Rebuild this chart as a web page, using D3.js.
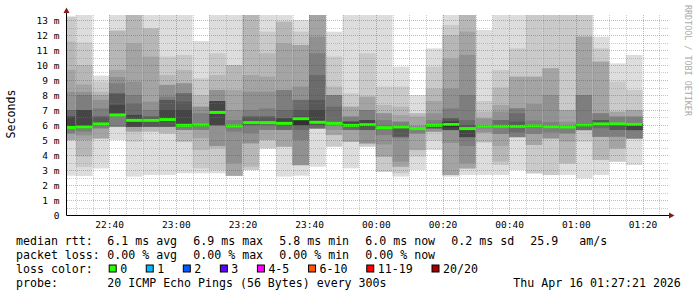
<!DOCTYPE html>
<html>
<head>
<meta charset="utf-8">
<style>
body { margin: 0; background: #fff; }
text { font-family: "DejaVu Sans Mono", monospace; fill: #000; }
.axis text { font-size: 9.5px; }
.legend text { font-size: 11.6px; white-space: pre; }
</style>
<title>smoke</title>
<script src="https://cdn.jsdelivr.net/npm/d3@7/dist/d3.min.js"></script>
</head>
<body>
<svg width="697" height="297"></svg>
<script>

// 5 minute slots (end time of each step)
var slotEnd = ["22:30","22:35","22:40","22:45","22:50","22:55","23:00","23:05","23:10","23:15",
  "23:20","23:25","23:30","23:35","23:40","23:45","23:50","23:55","00:00","00:05",
  "00:10","00:15","00:20","00:25","00:30","00:35","00:40","00:45","00:50","00:55",
  "01:00","01:05","01:10","01:15","01:20"];

var median = [5.84, 5.87, 6.07, 6.67, 6.31, 6.31, 6.36, 5.98, 6.0, 6.84,
  5.93, 6.16, 6.16, 6.11, 6.42, 6.18, 6.11, 5.98, 6.02, 5.82,
  5.87, 5.76, 5.98, 6.04, 5.76, 5.91, 5.91, 5.91, 5.93, 5.89,
  5.87, 6.0, 6.07, 6.07, 6.04];

// sorted ping1..ping20 per slot (ms)
var pings = [
  [2.62, 4.98, 4.99, 5.0, 5.44, 5.44, 5.78, 5.8, 5.82, 5.83, 5.86, 6.56, 6.56, 7.0, 7.0, 8.2, 9.67, 11.56, 13.2, 13.25],
  [2.6, 3.2, 3.9, 5.0, 5.3, 5.56, 5.75, 5.8, 5.82, 5.85, 5.9, 7.0, 7.0, 7.0, 8.0, 8.2, 8.7, 10.0, 11.5, 13.4],
  [3.1, 5.09, 5.1, 5.11, 5.77, 5.78, 6.0, 6.02, 6.04, 6.05, 6.1, 6.1, 6.56, 6.56, 7.11, 7.67, 8.0, 8.22, 8.89, 9.29],
  [5.0, 5.86, 5.87, 5.88, 5.89, 5.89, 6.56, 6.6, 6.62, 6.64, 6.7, 7.33, 8.1, 8.1, 8.78, 9.2, 9.67, 12.29, 12.29, 13.5],
  [2.56, 4.89, 5.56, 5.56, 5.87, 5.88, 5.88, 5.89, 5.89, 6.25, 6.35, 6.67, 6.67, 7.44, 8.0, 8.89, 11.44, 14.0, 14.5, 15.0],
  [2.67, 5.55, 5.56, 5.87, 5.88, 5.88, 5.89, 5.89, 6.22, 6.27, 6.35, 6.35, 6.56, 6.56, 7.0, 7.56, 10.56, 12.44, 12.44, 13.5],
  [2.67, 5.43, 5.44, 5.87, 5.88, 5.88, 5.89, 5.89, 6.22, 6.3, 6.4, 7.0, 7.67, 7.67, 7.89, 8.67, 8.67, 9.33, 10.56, 13.5],
  [2.78, 4.88, 4.89, 5.66, 5.67, 5.67, 5.89, 5.92, 5.94, 5.95, 6.02, 7.0, 7.56, 8.11, 8.11, 8.78, 8.78, 9.67, 10.67, 13.5],
  [2.78, 3.11, 4.33, 5.11, 5.67, 5.67, 5.89, 5.92, 5.94, 5.95, 6.05, 6.05, 6.05, 6.05, 6.78, 7.22, 7.22, 8.0, 9.11, 11.6],
  [2.78, 3.0, 4.44, 4.6, 4.6, 5.97, 5.98, 5.99, 6.0, 6.8, 6.9, 7.6, 7.6, 7.6, 7.6, 8.33, 8.33, 9.33, 10.78, 13.5],
  [2.6, 2.61, 2.62, 2.62, 3.44, 5.56, 5.84, 5.86, 5.88, 5.9, 5.95, 5.95, 5.95, 5.95, 6.33, 7.0, 8.33, 10.0, 10.0, 13.4],
  [2.99, 3.0, 3.22, 4.78, 4.78, 5.44, 6.0, 6.02, 6.05, 6.08, 6.18, 6.18, 6.56, 6.56, 7.0, 8.22, 9.33, 14.0, 14.5, 15.0],
  [4.43, 4.44, 5.0, 5.0, 5.67, 5.67, 6.0, 6.05, 6.08, 6.12, 6.18, 6.18, 6.56, 6.56, 7.11, 8.22, 9.22, 10.78, 12.22, 13.4],
  [2.56, 4.55, 4.56, 4.56, 5.66, 5.67, 5.67, 6.0, 6.03, 6.08, 6.13, 6.44, 6.44, 7.0, 8.33, 8.33, 11.44, 12.89, 12.89, 13.33],
  [2.62, 3.31, 3.32, 3.33, 3.33, 5.0, 5.67, 5.98, 6.0, 6.0, 6.5, 6.56, 7.0, 7.67, 7.67, 8.56, 11.33, 11.33, 12.22, 13.0],
  [3.22, 5.76, 5.77, 5.77, 5.78, 5.78, 5.78, 6.0, 6.05, 6.1, 6.2, 7.0, 7.67, 9.33, 10.78, 11.89, 14.0, 14.5, 15.0, 15.5],
  [4.55, 4.56, 5.33, 5.33, 5.67, 6.0, 6.02, 6.05, 6.07, 6.1, 6.13, 6.13, 6.13, 7.22, 8.0, 8.0, 8.0, 8.56, 10.56, 12.22],
  [3.11, 4.88, 4.89, 4.89, 5.66, 5.67, 5.67, 5.89, 5.92, 5.95, 6.0, 6.22, 6.22, 6.22, 6.56, 6.56, 7.22, 7.22, 8.11, 13.5],
  [4.55, 4.56, 4.77, 4.78, 4.78, 5.66, 5.67, 5.67, 5.89, 5.95, 6.03, 6.33, 6.33, 6.33, 7.0, 7.0, 7.89, 7.89, 10.78, 13.4],
  [2.88, 2.89, 3.89, 3.89, 4.7, 5.33, 5.78, 5.79, 5.8, 5.8, 5.85, 5.85, 5.85, 5.85, 6.33, 6.78, 6.78, 7.33, 8.56, 13.4],
  [2.56, 2.78, 3.22, 3.22, 3.56, 5.11, 5.22, 5.22, 5.82, 5.85, 5.9, 5.9, 5.9, 5.9, 6.22, 6.22, 6.67, 7.22, 8.56, 9.89],
  [3.0, 3.89, 4.33, 4.33, 5.44, 5.44, 5.72, 5.73, 5.74, 5.75, 5.8, 5.8, 5.8, 5.8, 5.9, 5.9, 6.56, 6.78, 6.78, 8.0],
  [4.33, 4.95, 5.55, 5.56, 5.56, 5.77, 5.78, 5.78, 5.89, 5.95, 6.0, 6.0, 6.0, 6.0, 6.33, 6.78, 7.6, 8.44, 9.89, 11.11],
  [2.56, 2.66, 2.67, 2.67, 4.8, 5.65, 5.66, 5.67, 5.67, 5.86, 6.22, 6.22, 6.44, 6.44, 7.11, 8.44, 10.44, 12.0, 12.67, 13.5],
  [2.67, 3.1, 3.11, 3.11, 3.44, 4.6, 5.18, 5.19, 5.2, 5.72, 5.8, 5.8, 6.0, 6.33, 8.0, 10.67, 12.22, 14.0, 14.5, 15.0],
  [2.67, 4.84, 4.85, 5.49, 5.5, 5.78, 5.8, 5.82, 5.84, 5.86, 5.95, 5.95, 5.95, 5.95, 5.95, 6.44, 6.44, 6.89, 7.6, 12.33],
  [2.67, 3.33, 3.56, 4.6, 5.4, 5.4, 5.8, 5.82, 5.84, 5.86, 5.95, 5.95, 5.95, 6.33, 6.33, 6.89, 7.33, 8.5, 9.67, 13.5],
  [3.0, 5.17, 5.18, 5.19, 5.2, 5.2, 5.5, 5.8, 5.84, 5.87, 5.95, 5.95, 6.22, 6.78, 7.11, 7.11, 9.22, 9.22, 11.11, 13.5],
  [2.77, 2.78, 4.67, 4.67, 5.4, 5.4, 5.8, 5.83, 5.86, 5.9, 5.95, 5.95, 5.95, 5.95, 6.3, 7.4, 9.22, 9.22, 14.0, 15.0],
  [2.66, 2.67, 5.1, 5.11, 5.11, 5.5, 5.8, 5.82, 5.84, 5.86, 5.9, 5.9, 5.9, 5.9, 6.2, 8.0, 9.78, 9.78, 14.0, 15.0],
  [2.67, 3.43, 3.44, 4.89, 5.44, 5.44, 5.8, 5.82, 5.83, 5.84, 5.9, 5.9, 5.9, 5.9, 5.9, 6.22, 7.0, 7.0, 14.0, 15.0],
  [2.44, 4.89, 5.64, 5.65, 5.66, 5.67, 5.67, 5.89, 5.93, 5.97, 6.03, 6.03, 6.11, 6.11, 8.0, 8.0, 11.89, 11.89, 14.0, 15.0],
  [2.67, 3.66, 3.67, 5.2, 5.21, 5.22, 5.78, 6.0, 6.02, 6.04, 6.1, 6.1, 6.33, 6.33, 6.78, 6.78, 10.22, 10.22, 11.11, 11.89],
  [3.55, 3.56, 4.44, 4.44, 5.22, 5.22, 5.67, 5.67, 6.0, 6.04, 6.1, 6.1, 6.1, 6.1, 6.56, 6.56, 6.89, 6.89, 8.89, 10.11],
  [3.33, 5.08, 5.09, 5.1, 5.11, 5.11, 5.65, 5.66, 5.67, 6.0, 6.07, 6.07, 6.07, 6.07, 6.56, 6.56, 7.0, 7.0, 8.33, 10.67]
];

var rttStats = ["6.1 ms avg", "6.9 ms max", "5.8 ms min", "6.0 ms now", "0.2 ms sd"];
var lossStats = ["0.00 % avg", "0.00 % max", "0.00 % min", "0.00 % now"];
var amValue = "25.9", amUnit = "am/s";
var lossLabels = ["0", "1", "2", "3", "4-5", "6-10", "11-19", "20/20"];
var lossColors = ["#26ff00", "#00b8ff", "#0059ff", "#5e00ff", "#ff00ff", "#ff5500", "#ff0000", "#a10000"];
var probeText = "20 ICMP Echo Pings (56 Bytes) every 300s";
var stampText = "Thu Apr 16 01:27:21 2026";

var svg = d3.select("svg"),
    margin = {top: 15, left: 67},
    width = 600,
    height = 200;

svg.append("rect").attr("width", 697).attr("height", 297).attr("fill", "#fff");

function parseSlot(s) {
  var hm = s.split(":").map(Number);
  return new Date(Date.UTC(2026, 3, hm[0] < 12 ? 16 : 15, hm[0], hm[1], 0));
}
var start = new Date(Date.UTC(2026, 3, 15, 22, 27, 21)),
    end = new Date(Date.UTC(2026, 3, 16, 1, 27, 21));

var x = d3.scaleUtc().domain([start, end]).range([0, width]),
    y = d3.scaleLinear().domain([0, height / 15]).range([height, 0]);

var g = svg.append("g")
    .attr("transform", "translate(" + margin.left + "," + margin.top + ")");

g.append("clipPath").attr("id", "plot")
  .append("rect").attr("width", width).attr("height", height);

var cols = slotEnd.map(function(s, j) {
  var t1 = parseSlot(s);
  return {t0: new Date(+t1 - 300000), t1: t1, p: pings[j], m: median[j]};
});

// smoke: band i goes from ping(i) to ping(21-i), outer light, inner dark
var half = 10;
function gray(i) {
  var v = Math.floor(190 / half * (half - i)) + 50;
  return d3.rgb(v, v, v).formatHex();
}

var smoke = g.append("g").attr("clip-path", "url(#plot)");
cols.forEach(function(c) {
  for (var i = 1; i <= half; i++) {
    smoke.append("rect")
      .attr("x", x(c.t0))
      .attr("width", x(c.t1) - x(c.t0))
      .attr("y", y(c.p[20 - i]))
      .attr("height", y(c.p[i - 1]) - y(c.p[20 - i]))
      .attr("fill", gray(i));
  }
});

// median line, all slots had zero loss
smoke.selectAll(".med")
  .data(cols)
  .enter().append("line")
    .attr("class", "med")
    .attr("x1", function(d) { return x(d.t0); })
    .attr("x2", function(d) { return x(d.t1); })
    .attr("y1", function(d) { return y(d.m); })
    .attr("y2", function(d) { return y(d.m); })
    .attr("stroke", lossColors[0])
    .attr("stroke-width", 3);

// grid
var grid = g.append("g").attr("shape-rendering", "crispEdges");
var minorT = d3.utcMinute.every(5).range(start, end),
    majorT = d3.utcMinute.every(20).range(start, end);
function px(v) { return Math.round(v) + 0.5; }

grid.selectAll(".vmin").data(minorT.filter(function(d) { return d.getUTCMinutes() % 20; }))
  .enter().append("line")
    .attr("x1", function(d) { return px(x(d)); }).attr("x2", function(d) { return px(x(d)); })
    .attr("y1", 0).attr("y2", height)
    .attr("stroke", "rgba(128,128,128,0.4)").attr("stroke-dasharray", "1,1");
grid.selectAll(".hmin").data(d3.range(0.5, 13.4, 1))
  .enter().append("line")
    .attr("x1", 0).attr("x2", width + 1)
    .attr("y1", function(d) { return px(y(d)); }).attr("y2", function(d) { return px(y(d)); })
    .attr("stroke", "rgba(128,128,128,0.4)").attr("stroke-dasharray", "1,1");
grid.selectAll(".vmaj").data(majorT)
  .enter().append("line")
    .attr("x1", function(d) { return px(x(d)); }).attr("x2", function(d) { return px(x(d)); })
    .attr("y1", 0).attr("y2", height)
    .attr("stroke", "rgba(225,0,0,0.35)").attr("stroke-dasharray", "1,1");
grid.selectAll(".hmaj").data(d3.range(1, 14))
  .enter().append("line")
    .attr("x1", 0).attr("x2", width + 1)
    .attr("y1", function(d) { return px(y(d)); }).attr("y2", function(d) { return px(y(d)); })
    .attr("stroke", "rgba(225,0,0,0.35)").attr("stroke-dasharray", "1,1");

// axes
g.append("g")
    .attr("class", "axis")
    .call(d3.axisLeft(y).tickValues(d3.range(0, 14)).tickSize(0).tickPadding(7.5)
      .tickFormat(function(d) { return d === 0 ? "0" : d + " m"; }))
    .call(function(a) { a.select(".domain").remove(); })
    .selectAll("text").attr("font-family", null).attr("font-size", null);

g.append("g")
    .attr("class", "axis")
    .attr("transform", "translate(0," + height + ")")
    .call(d3.axisBottom(x).ticks(d3.utcMinute.every(20)).tickSize(0).tickPadding(6)
      .tickFormat(d3.utcFormat("%H:%M")))
    .call(function(a) { a.select(".domain").remove(); })
    .selectAll("text").attr("font-family", null).attr("font-size", null);

g.append("line")
    .attr("x1", -0.5).attr("x2", -0.5).attr("y1", height + 0.5).attr("y2", -4)
    .attr("stroke", "#000").attr("stroke-width", 1);
g.append("line")
    .attr("x1", -0.5).attr("x2", width + 3).attr("y1", height + 0.5).attr("y2", height + 0.5)
    .attr("stroke", "#000").attr("stroke-width", 1);
g.append("path")
    .attr("d", "M-3.5,-2L2.5,-2L-0.5,-7.5Z")
    .attr("fill", "#8b1a1a");
g.append("path")
    .attr("d", "M" + (width + 2) + "," + (height - 2.5) + "L" + (width + 7.5) + "," + (height + 0.5) +
      "L" + (width + 2) + "," + (height + 3.5) + "Z")
    .attr("fill", "#8b1a1a");

svg.append("text")
    .attr("transform", "translate(15,114) rotate(-90)")
    .attr("text-anchor", "middle")
    .style("font-size", "11.6px")
    .text("Seconds");

svg.append("text")
    .attr("transform", "translate(684.5,5) rotate(90)")
    .style("font-size", "8.4px")
    .style("fill", "#aaaaaa")
    .text("RRDTOOL / TOBI OETIKER");

// legend
var lg = svg.append("g").attr("class", "legend");
var col0 = 16, colX = function(k) { return 107.3 + 86 * k; };
var rows = [245, 259, 273, 287];

lg.append("text").attr("x", col0).attr("y", rows[0]).text("median rtt:");
rttStats.forEach(function(s, k) {
  lg.append("text").attr("x", colX(k)).attr("y", rows[0]).text(s);
});
lg.append("text").attr("x", 530.3).attr("y", rows[0]).text(amValue);
lg.append("text").attr("x", 579.3).attr("y", rows[0]).text(amUnit);

lg.append("text").attr("x", col0).attr("y", rows[1]).text("packet loss:");
lossStats.forEach(function(s, k) {
  lg.append("text").attr("x", colX(k)).attr("y", rows[1]).text(s);
});

lg.append("text").attr("x", col0).attr("y", rows[2]).text("loss color:");
var bx = 108.7;
lossLabels.forEach(function(s, k) {
  lg.append("rect")
    .attr("x", bx + 0.5).attr("y", 265)
    .attr("width", 7).attr("height", 7)
    .attr("fill", lossColors[k]).attr("stroke", "#000").attr("stroke-width", 1);
  lg.append("text").attr("x", bx + 11.5).attr("y", rows[2]).text(s);
  bx += 30 + 7.05 * s.length;
});

lg.append("text").attr("x", col0).attr("y", rows[3]).text("probe:");
lg.append("text").attr("x", colX(0)).attr("y", rows[3]).text(probeText);
lg.append("text").attr("x", 513.3).attr("y", rows[3]).text(stampText);

</script>
</body>
</html>
